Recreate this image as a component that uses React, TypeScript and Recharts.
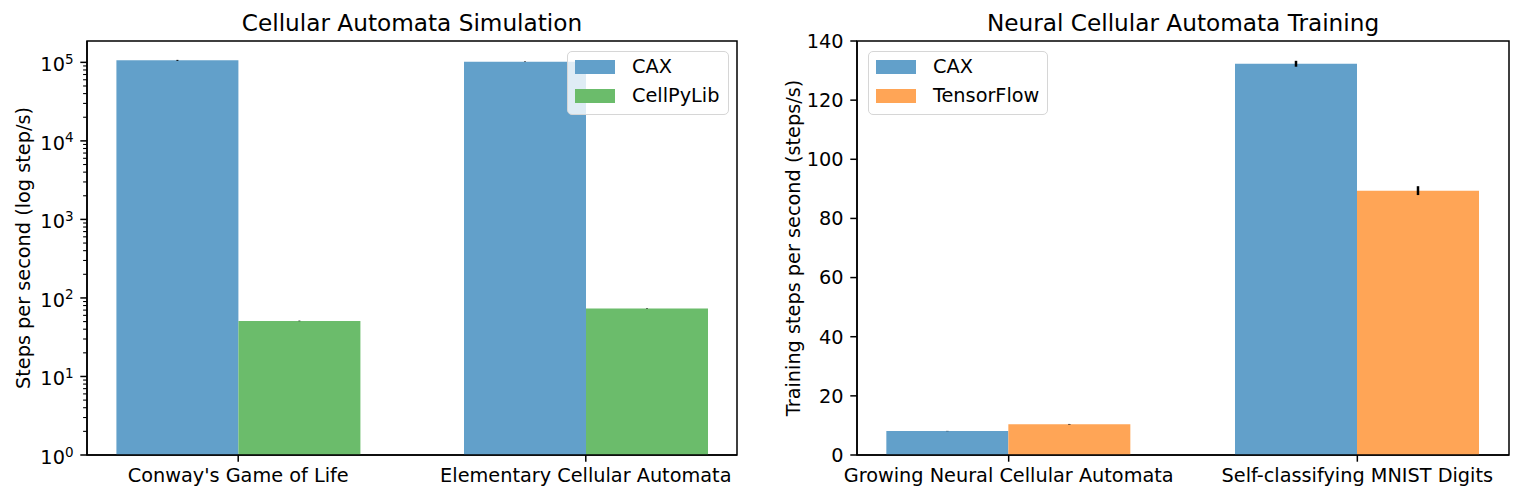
import { Bar, BarChart, ErrorBar, ReferenceArea, XAxis, YAxis } from "recharts";

const caCategories = ["Conway's Game of Life", "Elementary Cellular Automata"];
const caCax = [106000, 102000];
const caCaxErr = [1500, 800];
const caCellPyLib = [51, 73.5];
const caCellPyLibErr = [0.4, 0.5];
const caLogTicks = [
  1, 2, 3, 4, 5, 6, 7, 8, 9,
  10, 20, 30, 40, 50, 60, 70, 80, 90,
  100, 200, 300, 400, 500, 600, 700, 800, 900,
  1000, 2000, 3000, 4000, 5000, 6000, 7000, 8000, 9000,
  10000, 20000, 30000, 40000, 50000, 60000, 70000, 80000, 90000,
  100000,
];

const ncaCategories = ["Growing Neural Cellular Automata", "Self-classifying MNIST Digits"];
const ncaCax = [8.1, 132.3];
const ncaCaxErr = [0.05, 1.0];
const ncaTensorFlow = [10.4, 89.4];
const ncaTensorFlowErr = [0.1, 1.5];
const ncaTicks = [0, 20, 40, 60, 80, 100, 120, 140];

const BLUE = "#62a0ca";
const GREEN = "#6bbc6b";
const ORANGE = "#ffa556";
const FONT = "DejaVu Sans";
const FS = 19.3;

const caData = caCategories.map((name, i) => ({
  x: i,
  name,
  cax: caCax[i],
  caxErr: caCaxErr[i],
  other: caCellPyLib[i],
  otherErr: caCellPyLibErr[i],
}));

const ncaData = ncaCategories.map((name, i) => ({
  x: i,
  name,
  cax: ncaCax[i],
  caxErr: ncaCaxErr[i],
  other: ncaTensorFlow[i],
  otherErr: ncaTensorFlowErr[i],
}));

const LogTick = (props: any) => {
  const { x, y, payload } = props;
  const e = Math.log10(payload.value);
  const major = Math.abs(e - Math.round(e)) < 1e-6;
  return (
    <g>
      <line x1={x - (major ? 6.7 : 3.9)} x2={x} y1={y} y2={y} stroke="#000" strokeWidth={major ? 1.5 : 1.1} />
      {major && (
        <text x={x - 13.5} y={y + 9} textAnchor="end" fontFamily={FONT} fontSize={FS} fill="#000">
          <tspan>10</tspan>
          <tspan dy={-7.5} fontSize={13.5}>{Math.round(e)}</tspan>
        </text>
      )}
    </g>
  );
};

const YLabel = ({ viewBox, text }: any) => {
  const cx = viewBox.x + 23;
  const cy = viewBox.y + viewBox.height / 2;
  return (
    <text
      x={cx}
      y={cy}
      transform={`rotate(-90 ${cx} ${cy})`}
      textAnchor="middle"
      dominantBaseline="central"
      fontFamily={FONT}
      fontSize={FS}
      fill="#000"
    >
      {text}
    </text>
  );
};

const LegendBox = ({ items, left, width }: { items: { label: string; color: string }[]; left: number; width: number }) => (
  <div
    style={{
      position: "absolute",
      left,
      top: 51,
      width,
      height: 64,
      boxSizing: "border-box",
      background: "rgba(255,255,255,0.8)",
      border: "1.5px solid #d6d6d6",
      borderRadius: 5,
      padding: "0px 7px",
      fontFamily: FONT,
      fontSize: FS,
      color: "#000",
    }}
  >
    {items.map((it) => (
      <div key={it.label} style={{ display: "flex", alignItems: "center", height: 29 }}>
        <span style={{ width: 40, height: 14, background: it.color, display: "inline-block", marginRight: 17 }} />
        <span>{it.label}</span>
      </div>
    ))}
  </div>
);

const Title = ({ text, center }: { text: string; center: number }) => (
  <div
    style={{
      position: "absolute",
      left: center - 300,
      width: 600,
      top: 11.4,
      textAlign: "center",
      fontFamily: FONT,
      fontSize: 23.2,
      lineHeight: "23.2px",
      color: "#000",
    }}
  >
    {text}
  </div>
);

const tickStyle = { fontFamily: FONT, fontSize: FS, fill: "#000" };

export default function App() {
  return (
    <div style={{ position: "relative", width: 1522, height: 500, background: "#fff" }}>
      <style>{`body{margin:0}`}</style>
      <Title text="Cellular Automata Simulation" center={412} />
      <Title text="Neural Cellular Automata Training" center={1183} />

      <div style={{ position: "absolute", left: 0, top: 0 }}>
        <BarChart width={760} height={500} data={caData} margin={{ top: 41, right: 23, bottom: 0, left: 0 }} barGap={0}>
          <XAxis
            dataKey="x"
            type="number"
            domain={[-0.435, 1.435]}
            ticks={[0, 1]}
            allowDataOverflow
            height={45}
            tickFormatter={(v: number) => caCategories[v]}
            tick={tickStyle}
            tickSize={6.7}
            tickMargin={6.8}
            tickLine={{ stroke: "#000", strokeWidth: 1.5 }}
            axisLine={{ stroke: "#000", strokeWidth: 1.5 }}
          />
          <YAxis
            scale="log"
            domain={[1, 187000]}
            allowDataOverflow
            ticks={caLogTicks}
            interval={0}
            width={87}
            tickSize={0}
            tickMargin={0}
            tick={<LogTick />}
            axisLine={{ stroke: "#000", strokeWidth: 1.5 }}
            label={{ content: (p: any) => <YLabel {...p} text="Steps per second (log step/s)" /> }}
          />
          <Bar dataKey="cax" name="CAX" fill={BLUE} barSize={122} isAnimationActive={false}>
            <ErrorBar dataKey="caxErr" width={0} stroke="#000" strokeWidth={2} />
          </Bar>
          <Bar dataKey="other" name="CellPyLib" fill={GREEN} barSize={122} isAnimationActive={false}>
            <ErrorBar dataKey="otherErr" width={0} stroke="#000" strokeWidth={2} />
          </Bar>
          <ReferenceArea x1={-0.435} x2={1.435} y1={1} y2={187000} fill="none" stroke="#000" strokeWidth={1.5} ifOverflow="visible" />
        </BarChart>
      </div>

      <div style={{ position: "absolute", left: 770, top: 0 }}>
        <BarChart width={752} height={500} data={ncaData} margin={{ top: 41, right: 13, bottom: 0, left: 0 }} barGap={0}>
          <XAxis
            dataKey="x"
            type="number"
            domain={[-0.435, 1.435]}
            ticks={[0, 1]}
            allowDataOverflow
            height={45}
            tickFormatter={(v: number) => ncaCategories[v]}
            tick={tickStyle}
            tickSize={6.7}
            tickMargin={6.8}
            tickLine={{ stroke: "#000", strokeWidth: 1.5 }}
            axisLine={{ stroke: "#000", strokeWidth: 1.5 }}
          />
          <YAxis
            domain={[0, 140]}
            ticks={ncaTicks}
            interval={0}
            width={87}
            tick={tickStyle}
            tickSize={6.7}
            tickMargin={6.8}
            tickLine={{ stroke: "#000", strokeWidth: 1.5 }}
            axisLine={{ stroke: "#000", strokeWidth: 1.5 }}
            label={{ content: (p: any) => <YLabel {...p} text="Training steps per second (steps/s)" /> }}
          />
          <Bar dataKey="cax" name="CAX" fill={BLUE} barSize={122} isAnimationActive={false}>
            <ErrorBar dataKey="caxErr" width={0} stroke="#000" strokeWidth={2.5} />
          </Bar>
          <Bar dataKey="other" name="TensorFlow" fill={ORANGE} barSize={122} isAnimationActive={false}>
            <ErrorBar dataKey="otherErr" width={0} stroke="#000" strokeWidth={2.5} />
          </Bar>
          <ReferenceArea x1={-0.435} x2={1.435} y1={0} y2={140} fill="none" stroke="#000" strokeWidth={1.5} ifOverflow="visible" />
        </BarChart>
      </div>

      <LegendBox
        left={567}
        width={162}
        items={[
          { label: "CAX", color: BLUE },
          { label: "CellPyLib", color: GREEN },
        ]}
      />
      <LegendBox
        left={868}
        width={180}
        items={[
          { label: "CAX", color: BLUE },
          { label: "TensorFlow", color: ORANGE },
        ]}
      />
    </div>
  );
}
